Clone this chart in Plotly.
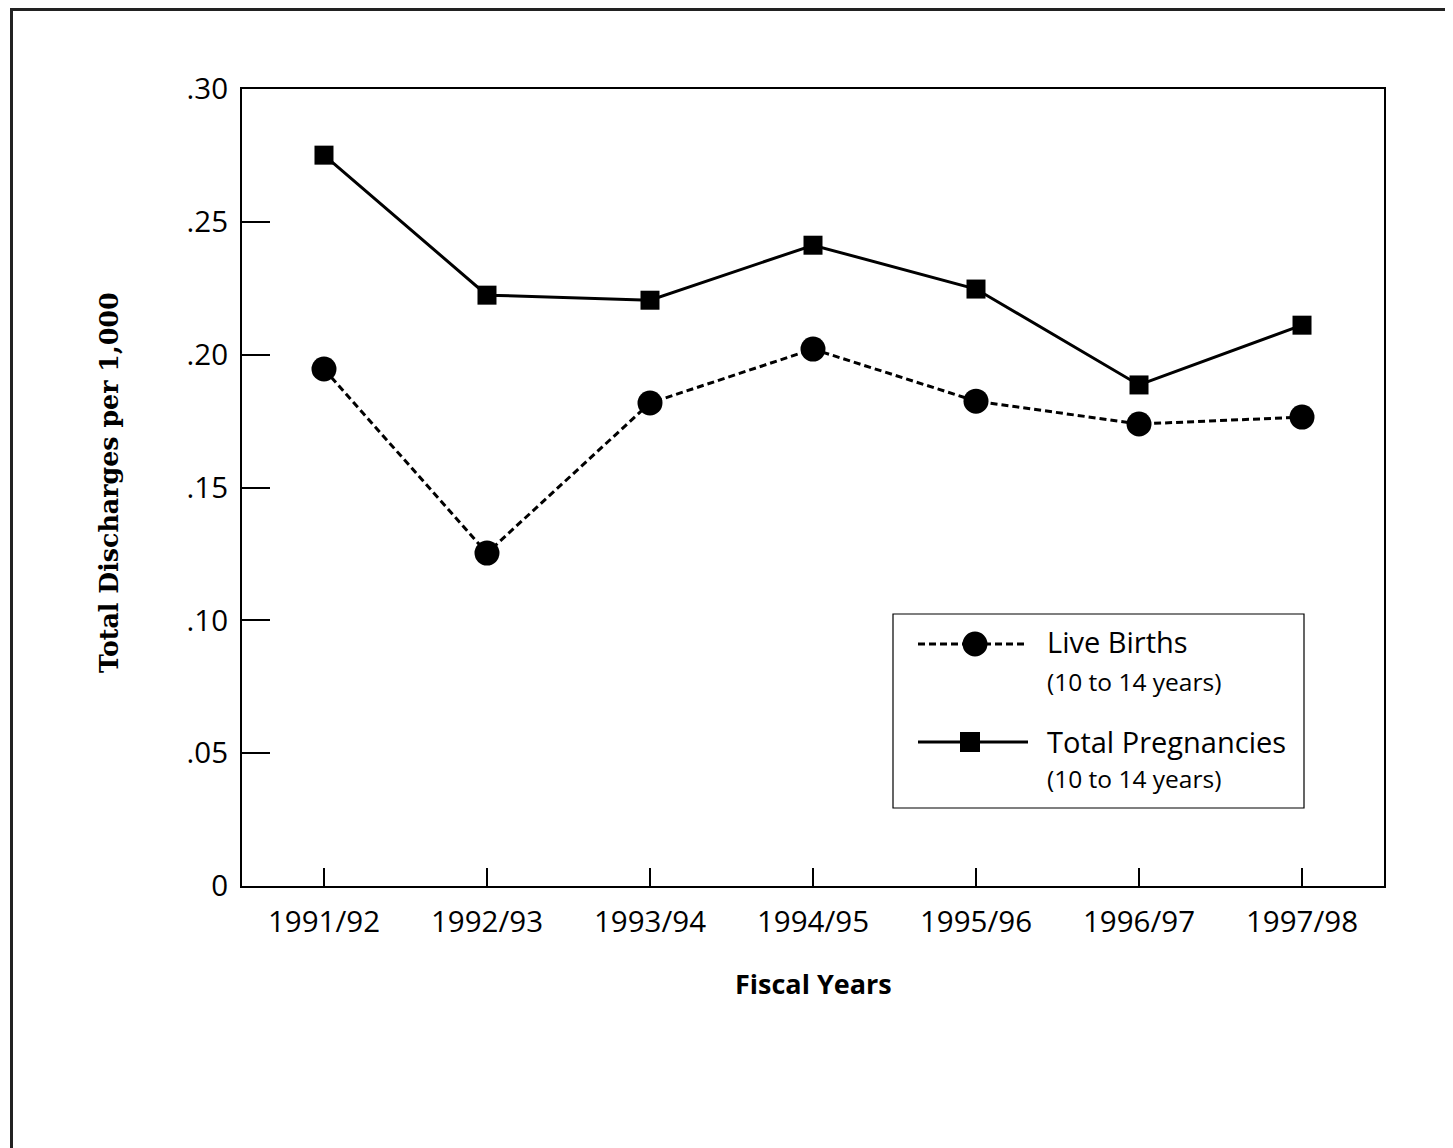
import plotly.graph_objects as go

# ---- data ----
fiscal_years = ["1991/92", "1992/93", "1993/94", "1994/95", "1995/96", "1996/97", "1997/98"]
live_births = [0.1946, 0.1253, 0.1818, 0.2021, 0.1825, 0.1739, 0.1765]
total_pregnancies = [0.2751, 0.2224, 0.2205, 0.2412, 0.2247, 0.1886, 0.2111]
y_tick_vals = [0, 0.05, 0.10, 0.15, 0.20, 0.25, 0.30]
y_tick_text = ["0", ".05", ".10", ".15", ".20", ".25", ".30"]

OFF = 8  # page body margin
W, H = 1453 - OFF, 1148 - OFF
# plot area in page pixels
PL, PR, PT, PB = 242, 1384, 89, 886
L, R, T, B = PL - OFF, PR - OFF, PT - OFF, PB - OFF
PW, PH = R - L, B - T


def px(x):
    return (x - OFF - L) / PW


def py(y):
    return (B - (y - OFF)) / PH


FONT = "Open Sans"
x_idx = list(range(len(fiscal_years)))

fig = go.Figure()
fig.add_trace(go.Scatter(
    x=x_idx, y=total_pregnancies, mode="lines+markers", name="Total Pregnancies",
    line=dict(color="black", width=3),
    marker=dict(symbol="square", size=19, color="black"),
    showlegend=False, cliponaxis=False))
fig.add_trace(go.Scatter(
    x=x_idx, y=live_births, mode="lines+markers", name="Live Births",
    line=dict(color="black", width=3, dash="7px,4px"),
    marker=dict(symbol="circle", size=25, color="black"),
    showlegend=False, cliponaxis=False))

shapes = []
# outer page frame
shapes.append(dict(type="rect", xref="paper", yref="paper",
                   x0=px(11.5), x1=px(1480), y0=py(9.5), y1=py(1180),
                   line=dict(color="#222", width=3), fillcolor="rgba(0,0,0,0)", layer="above"))
# legend box
shapes.append(dict(type="rect", xref="paper", yref="paper",
                   x0=px(893), x1=px(1304), y0=py(808), y1=py(614),
                   line=dict(color="black", width=1.2), fillcolor="white", layer="above"))
# legend line samples
shapes.append(dict(type="line", xref="paper", yref="paper",
                   x0=px(918), x1=px(1028), y0=py(644), y1=py(644),
                   line=dict(color="black", width=3, dash="7px,4px"), layer="above"))
shapes.append(dict(type="circle", xref="paper", yref="paper",
                   x0=px(975 - 12.5), x1=px(975 + 12.5), y0=py(644 + 12.5), y1=py(644 - 12.5),
                   line=dict(color="black", width=0), fillcolor="black", layer="above"))
shapes.append(dict(type="line", xref="paper", yref="paper",
                   x0=px(918), x1=px(1028), y0=py(742), y1=py(742),
                   line=dict(color="black", width=3), layer="above"))
shapes.append(dict(type="rect", xref="paper", yref="paper",
                   x0=px(970 - 10), x1=px(970 + 10), y0=py(742 + 10), y1=py(742 - 10),
                   line=dict(color="black", width=0), fillcolor="black", layer="above"))

annotations = [
    dict(text="Live Births", xref="paper", yref="paper", x=px(1045), y=py(641),
         xanchor="left", yanchor="middle", showarrow=False,
         font=dict(family=FONT, size=29, color="black")),
    dict(text="(10 to 14 years)", xref="paper", yref="paper", x=px(1045), y=py(681),
         xanchor="left", yanchor="middle", showarrow=False,
         font=dict(family=FONT, size=24.5, color="black")),
    dict(text="Total Pregnancies", xref="paper", yref="paper", x=px(1045), y=py(741),
         xanchor="left", yanchor="middle", showarrow=False,
         font=dict(family=FONT, size=29, color="black")),
    dict(text="(10 to 14 years)", xref="paper", yref="paper", x=px(1045), y=py(778),
         xanchor="left", yanchor="middle", showarrow=False,
         font=dict(family=FONT, size=24.5, color="black")),
    dict(text="<b>Fiscal Years</b>", xref="paper", yref="paper", x=px(813), y=py(983),
         xanchor="center", yanchor="middle", showarrow=False,
         font=dict(family=FONT, size=27, color="black")),
    dict(text="<b>Total Discharges per 1,000</b>", xref="paper", yref="paper", x=px(109), y=py(483),
         xanchor="center", yanchor="middle", showarrow=False, textangle=-90,
         font=dict(family="DejaVu Serif", size=25.3, color="black")),
]

fig.update_layout(
    width=W, height=H, autosize=False,
    margin=dict(l=L, r=W - R, t=T, b=H - B, pad=0),
    paper_bgcolor="white", plot_bgcolor="white",
    shapes=shapes, annotations=annotations,
    font=dict(family=FONT, size=29, color="black"),
    xaxis=dict(
        range=[-0.503, len(fiscal_years) - 1 + 0.503],
        tickmode="array", tickvals=x_idx, ticktext=fiscal_years,
        ticks="inside", ticklen=18, tickwidth=2, tickcolor="black",
        showline=True, linewidth=2, linecolor="black", mirror=True,
        showgrid=False, zeroline=False, ticklabelstandoff=9,
        tickfont=dict(family=FONT, size=29.5, color="black")),
    yaxis=dict(
        range=[0, 0.30],
        tickmode="array", tickvals=y_tick_vals, ticktext=y_tick_text,
        ticks="inside", ticklen=28, tickwidth=2, tickcolor="black",
        showline=True, linewidth=2, linecolor="black", mirror=True,
        showgrid=False, zeroline=False, ticklabelstandoff=6,
        tickfont=dict(family=FONT, size=29.5, color="black")),
)

fig.write_html("out.html")
